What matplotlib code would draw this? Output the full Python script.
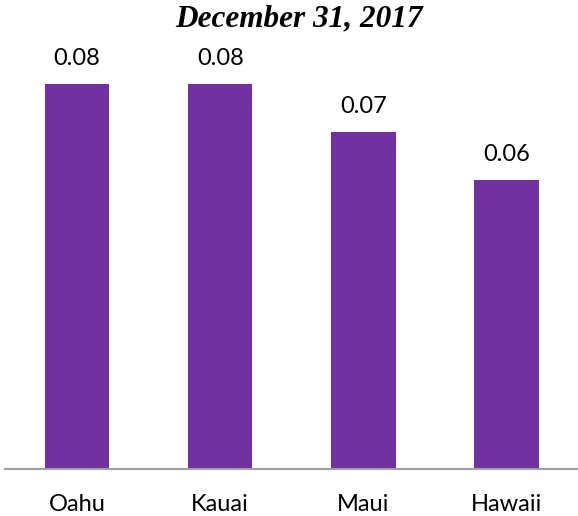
import matplotlib.pyplot as plt

islands = ["Oahu", "Kauai", "Maui", "Hawaii"]
values = [0.08, 0.08, 0.07, 0.06]
labels = ["0.08", "0.08", "0.07", "0.06"]

fig = plt.figure(figsize=(5.78, 5.16), dpi=100)
ax = fig.add_axes([0.0095, 0.091, 0.9905, 0.839])

bars = ax.bar(range(len(islands)), values, width=0.45, color="#7030A0")
ax.bar_label(bars, labels=labels, padding=11, fontsize=17, family="Lato")

ax.set_xlim(-0.5, 3.5)
ax.set_ylim(0, 0.09)
ax.set_xticks(range(len(islands)))
ax.set_xticklabels(islands, fontsize=17, family="Lato")
ax.tick_params(axis="x", length=0, pad=18)
ax.set_yticks([])
for s in ["top", "right", "left"]:
    ax.spines[s].set_visible(False)
ax.spines["bottom"].set_color("#A0A0A0")
ax.spines["bottom"].set_linewidth(1.5)

fig.text(0.517, 0.963, "December 31, 2017", ha="center", va="center",
         fontsize=22.5, fontweight="bold", fontstyle="italic", family="Liberation Serif")

fig.savefig("out.png", dpi=100)
